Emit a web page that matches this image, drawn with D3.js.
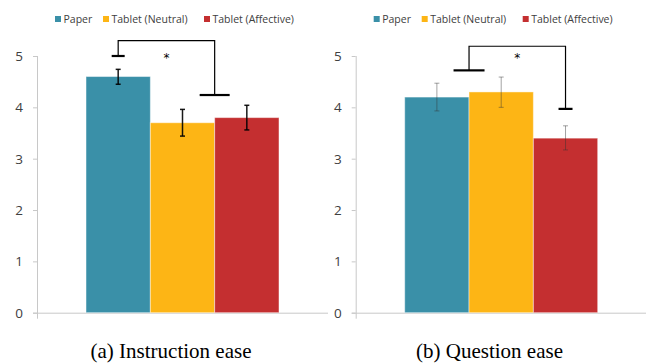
<!DOCTYPE html>
<html><head><meta charset="utf-8">
<script src="https://cdn.jsdelivr.net/npm/d3@7"></script>
<style>body{margin:0;background:#fff}svg{display:block}</style>
</head><body>
<svg id="c" width="646" height="364"></svg>
<script>
const seriesNames = ["Paper", "Tablet (Neutral)", "Tablet (Affective)"];
const seriesColors = ["#3a90a8", "#fdb515", "#c42f30"];
const captions = ["(a) Instruction ease", "(b) Question ease"];
const instructionMeans = [4.6, 3.7, 3.8];
const instructionLow = [4.45, 3.44, 3.56];
const instructionHigh = [4.74, 3.96, 4.04];
const questionMeans = [4.2, 4.3, 3.4];
const questionLow = [3.93, 4.0, 3.17];
const questionHigh = [4.47, 4.59, 3.64];
const yTicks = [0, 1, 2, 3, 4, 5];
// significance brackets: [left position (series index), left end value, right position, right end value, top value]
const instructionBracket = [0, 5.0, 1.5, 4.24, 5.3];
const questionBracket = [0.5, 4.72, 2, 3.97, 5.19];

const panels = [
  {caption: captions[0], means: instructionMeans, low: instructionLow, high: instructionHigh, bracket: instructionBracket,
   x0: 0, left: 37, right: 328, errColor: "#000", errOpacity: 0.9, errW: 1.5, capL: 13, capR: 30},
  {caption: captions[1], means: questionMeans, low: questionLow, high: questionHigh, bracket: questionBracket,
   x0: 318.7, left: 37, right: 328, errColor: "#333", errOpacity: 0.45, errW: 1, capL: 31, capR: 14}
];

const svg = d3.select("#c");
const y = d3.scaleLinear().domain([0, 5]).range([312.7, 56]);

panels.forEach((p, pi) => {
  const g = svg.append("g").attr("transform", `translate(${p.x0},0)`);
  const right = pi === 1 ? 646 - p.x0 : p.right;
  const xg = d3.scaleBand().domain([p.caption]).range([p.left, p.right]).paddingOuter(0.254).paddingInner(0);
  const xs = d3.scaleBand().domain(d3.range(seriesNames.length)).range([0, xg.bandwidth()]);
  const gx = xg(p.caption);
  const cx = i => gx + xs(i) + xs.bandwidth() / 2;
  const posX = v => gx + xs.step() * (v + 0.5);

  // axis
  const ax = g.append("g").attr("transform", `translate(${p.left},0)`)
    .call(d3.axisLeft(y).tickValues(yTicks).tickSize(4).tickPadding(10).tickFormat(d3.format("d")));
  ax.select(".domain").remove();
  ax.selectAll(".tick line").attr("stroke", "#c8c8c8");
  ax.selectAll(".tick text").attr("fill", "#404040").style("font-family", "'Open Sans', 'DejaVu Sans', sans-serif").style("font-size", "13.5px");
  g.append("line").attr("x1", p.left + 0.5).attr("x2", p.left + 0.5).attr("y1", y(5)).attr("y2", y(0) + 6).attr("stroke", "#c8c8c8");
  g.append("line").attr("x1", p.left - 4).attr("x2", right).attr("y1", y(0) + 0.5).attr("y2", y(0) + 0.5).attr("stroke", "#c8c8c8");

  // bars
  g.selectAll("rect.bar").data(p.means).join("rect").attr("class", "bar")
    .attr("x", (d, i) => gx + xs(i)).attr("width", xs.bandwidth())
    .attr("y", d => y(d)).attr("height", d => y(0) - y(d))
    .attr("fill", (d, i) => seriesColors[i])
    .attr("stroke", "rgba(255,255,255,0.45)").attr("stroke-width", 1);

  // error bars
  const eb = g.selectAll("g.err").data(p.means).join("g").attr("class", "err")
    .attr("stroke", p.errColor).attr("stroke-opacity", p.errOpacity).attr("stroke-width", p.errW);
  eb.append("line").attr("x1", (d, i) => cx(i)).attr("x2", (d, i) => cx(i))
    .attr("y1", (d, i) => y(p.high[i])).attr("y2", (d, i) => y(p.low[i]));
  eb.append("line").attr("x1", (d, i) => cx(i) - 2.5).attr("x2", (d, i) => cx(i) + 2.5)
    .attr("y1", (d, i) => y(p.high[i])).attr("y2", (d, i) => y(p.high[i]));
  eb.append("line").attr("x1", (d, i) => cx(i) - 2.5).attr("x2", (d, i) => cx(i) + 2.5)
    .attr("y1", (d, i) => y(p.low[i])).attr("y2", (d, i) => y(p.low[i]));

  // bracket
  const [bl, blv, br, brv, bt] = p.bracket;
  const lx = posX(bl), rx = posX(br);
  g.append("path").attr("fill", "none").attr("stroke", "#000").attr("stroke-width", 1.2)
    .attr("d", `M${lx},${y(blv)}V${y(bt)}H${rx}V${y(brv)}`);
  g.append("line").attr("x1", lx - p.capL / 2).attr("x2", lx + p.capL / 2).attr("y1", y(blv)).attr("y2", y(blv))
    .attr("stroke", "#000").attr("stroke-width", 2.2);
  g.append("line").attr("x1", rx - p.capR / 2).attr("x2", rx + p.capR / 2).attr("y1", y(brv)).attr("y2", y(brv))
    .attr("stroke", "#000").attr("stroke-width", 2.2);
  g.append("text").attr("x", (lx + rx) / 2).attr("y", y(5) + 6).attr("text-anchor", "middle")
    .style("font-family", "'DejaVu Sans', sans-serif").style("font-size", "12px").attr("fill", "#000").text("*");

  // legend
  const legX = [55, 103, 204];
  const lg = g.selectAll("g.leg").data(seriesNames).join("g").attr("class", "leg")
    .attr("transform", (d, i) => `translate(${legX[i]},16)`);
  lg.append("rect").attr("width", 6).attr("height", 6).attr("fill", (d, i) => seriesColors[i]);
  lg.append("text").attr("x", 8.5).attr("y", 6.8).text(d => d)
    .style("font-family", "'Open Sans', 'DejaVu Sans', sans-serif").style("font-size", "10.5px").attr("fill", "#404040");

  // caption
  g.append("text").attr("x", (pi === 0 ? 171 : 489.5 - p.x0)).attr("y", 358).attr("text-anchor", "middle")
    .style("font-family", "'Liberation Serif', 'Times New Roman', serif").style("font-size", "21px").attr("fill", "#000")
    .text(p.caption);
});
</script>
</body></html>
